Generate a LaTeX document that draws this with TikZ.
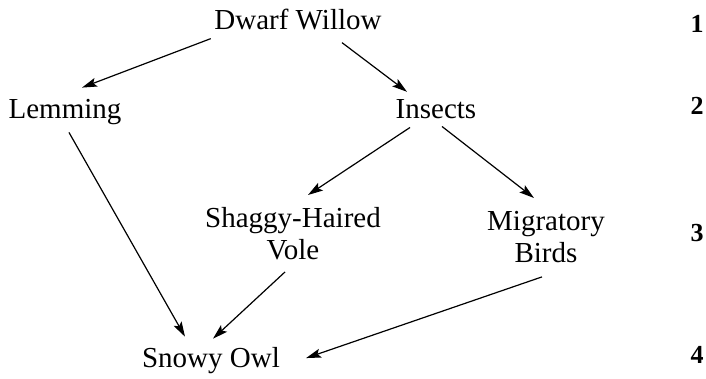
\documentclass[tikz,border=0pt]{standalone}
\usepackage{fontspec}
\setmainfont{Liberation Serif}
\usetikzlibrary{arrows.meta,calc}
\begin{document}
\begin{tikzpicture}[x=1pt,y=-1pt,
  lbl/.style={inner sep=0pt,font=\fontsize{29}{32}\selectfont,align=center},
  num/.style={inner sep=0pt,font=\fontsize{26}{30}\selectfont\bfseries,anchor=base},
  arr/.style={-{Stealth[length=15pt,width=9pt,inset=3pt]},line width=1.2pt}]
\useasboundingbox (0,0) rectangle (706,379);
\node[lbl,anchor=base] (dw) at (298,30) {Dwarf Willow};
\node[lbl,anchor=base] (lem) at (65,119) {Lemming};
\node[lbl,anchor=base] (ins) at (436,119) {Insects};
\node[lbl,anchor=north] (vole) at (293,207) {Shaggy-Haired\\Vole};
\node[lbl,anchor=north] (mig) at (546,211) {Migratory\\Birds};
\node[lbl,anchor=base] (owl) at (211,367) {Snowy Owl};
\node[num] (n1) at (697,33) {1};
\node[num] (n2) at (697,115) {2};
\node[num] (n3) at (697,242) {3};
\node[num] (n4) at (697,363) {4};
\draw[arr] ($(dw.south west)+(-3.5,8)$) -- ($(lem.north)+(17,-12)$);
\draw[arr] ($(dw.south)+(44,12)$) -- ($(ins.north)+(-29,-8)$);
\draw[arr] ($(lem.south)+(4,7)$) -- ($(owl.north)+(-26,-10)$);
\draw[arr] ($(ins.south)+(-26,8)$) -- ($(vole.north)+(15,-12)$);
\draw[arr] ($(ins.south)+(6,7)$) -- ($(mig.north)+(-12,-13)$);
\draw[arr] ($(vole.south)+(-8,12)$) -- ($(owl.north)+(2,-8)$);
\draw[arr] ($(mig.south)+(-4,14)$) -- ($(owl.east)+(26,-2)$);
\end{tikzpicture}
\end{document}
